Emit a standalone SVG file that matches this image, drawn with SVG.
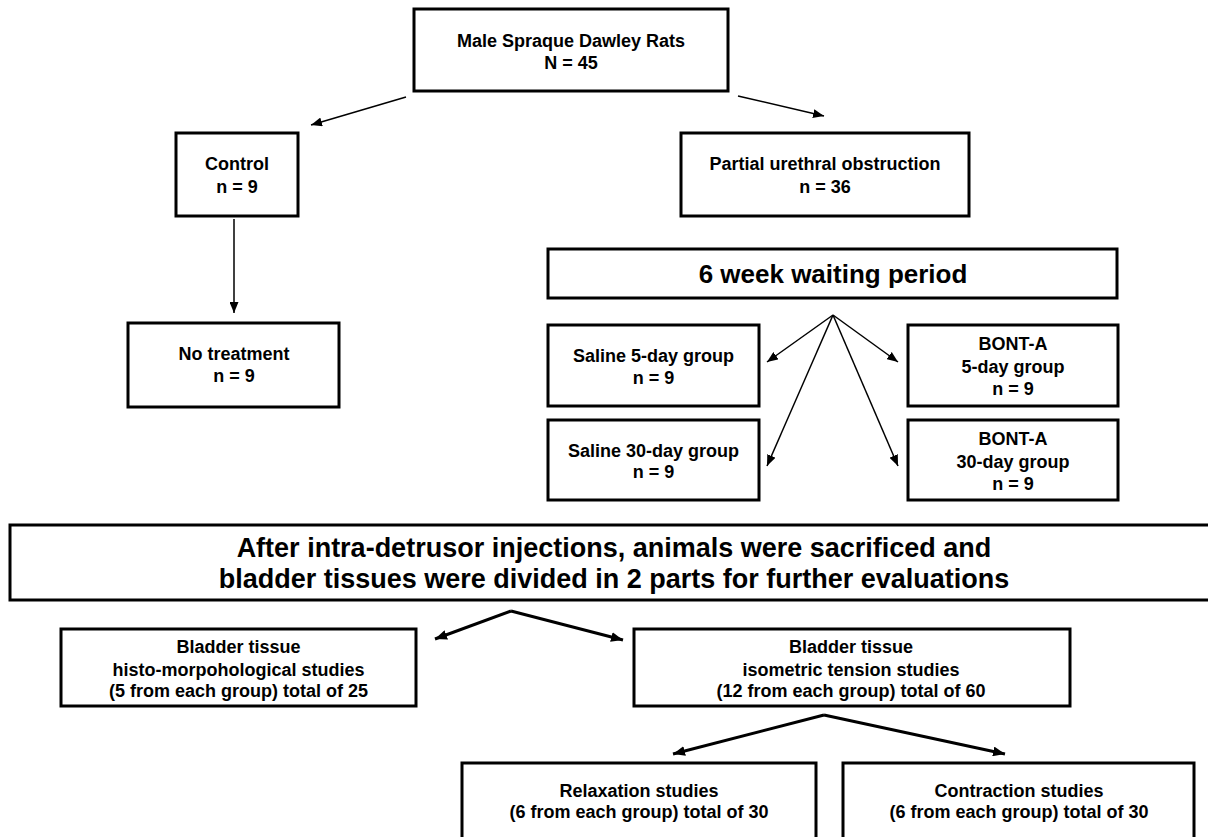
<svg xmlns="http://www.w3.org/2000/svg" width="1208" height="837" viewBox="0 0 1208 837">
<style>
.box{fill:#fff;stroke:#000;stroke-width:3}
.t{font-family:"Liberation Sans",Arial,sans-serif;font-weight:bold;font-size:18px;fill:#000;text-anchor:middle}
.big{font-size:26px}
.huge{font-size:27px}
.thin{stroke:#000;stroke-width:1.5;fill:none;marker-end:url(#ah)}
.thick{stroke:#000;stroke-width:3;fill:none;marker-end:url(#ahk)}
</style>
<defs>
<marker id="ah" markerUnits="userSpaceOnUse" markerWidth="11" markerHeight="9" refX="11" refY="4.5" orient="auto">
<path d="M0,0 L11,4.5 L0,9 z" fill="#000"/>
</marker>
<marker id="ahk" markerUnits="userSpaceOnUse" markerWidth="12" markerHeight="10" refX="12" refY="5" orient="auto">
<path d="M0,0 L12,5 L0,10 z" fill="#000"/>
</marker>
</defs>
<rect width="1208" height="837" fill="#fff"/>
<g id="connectors">
<path class="thin" d="M406,97 L311,125"/>
<path class="thin" d="M738,96 L824,116"/>
<path class="thin" d="M234,219 L234,313"/>
<path class="thin" d="M833,315 L767,362"/>
<path class="thin" d="M833,315 L767,466"/>
<path class="thin" d="M833,315 L898,362"/>
<path class="thin" d="M833,315 L898,466"/>
<path class="thick" d="M511,611 L435,639"/>
<path class="thick" d="M511,611 L623,640"/>
<path class="thick" d="M824,715 L673,754"/>
<path class="thick" d="M824,715 L1005,754"/>
</g>
<g id="rats">
<rect class="box" x="414" y="9" width="314" height="82"/>
<text class="t" x="571" y="47">Male Spraque Dawley Rats</text>
<text class="t" x="571" y="69">N = 45</text>
</g>
<g id="control">
<rect class="box" x="176" y="133" width="122" height="83"/>
<text class="t" x="237" y="170">Control</text>
<text class="t" x="237" y="193">n = 9</text>
</g>
<g id="obstruction">
<rect class="box" x="681" y="133" width="288" height="83"/>
<text class="t" x="825" y="170">Partial urethral obstruction</text>
<text class="t" x="825" y="193">n = 36</text>
</g>
<g id="notreatment">
<rect class="box" x="128" y="323" width="211" height="84"/>
<text class="t" x="234" y="360">No treatment</text>
<text class="t" x="234" y="382">n = 9</text>
</g>
<g id="waiting">
<rect class="box" x="548" y="249" width="569" height="49"/>
<text class="t big" x="833" y="283">6 week waiting period</text>
</g>
<g id="saline5">
<rect class="box" x="548" y="325" width="211" height="81"/>
<text class="t" x="653.5" y="362">Saline 5-day group</text>
<text class="t" x="653.5" y="384">n = 9</text>
</g>
<g id="saline30">
<rect class="box" x="548" y="420" width="211" height="80"/>
<text class="t" x="653.5" y="457">Saline 30-day group</text>
<text class="t" x="653.5" y="478">n = 9</text>
</g>
<g id="bont5">
<rect class="box" x="908" y="325" width="210" height="81"/>
<text class="t" x="1013" y="350">BONT-A</text>
<text class="t" x="1013" y="373">5-day group</text>
<text class="t" x="1013" y="395">n = 9</text>
</g>
<g id="bont30">
<rect class="box" x="908" y="420" width="210" height="80"/>
<text class="t" x="1013" y="445">BONT-A</text>
<text class="t" x="1013" y="468">30-day group</text>
<text class="t" x="1013" y="490">n = 9</text>
</g>
<g id="sacrificed">
<rect class="box" x="10" y="525" width="1210" height="75"/>
<text class="t huge" x="614" y="557">After intra-detrusor injections, animals were sacrificed and</text>
<text class="t huge" x="614" y="588">bladder tissues were divided in 2 parts for further evaluations</text>
</g>
<g id="histo">
<rect class="box" x="61" y="629" width="355" height="77"/>
<text class="t" x="238.5" y="653">Bladder tissue</text>
<text class="t" x="238.5" y="676">histo-morpohological studies</text>
<text class="t" x="238.5" y="697">(5 from each group) total of 25</text>
</g>
<g id="isometric">
<rect class="box" x="634" y="629" width="436" height="77"/>
<text class="t" x="851" y="653">Bladder tissue</text>
<text class="t" x="851" y="676">isometric tension studies</text>
<text class="t" x="851" y="697">(12 from each group) total of 60</text>
</g>
<g id="relaxation">
<rect class="box" x="462" y="763" width="354" height="90"/>
<text class="t" x="639" y="797">Relaxation studies</text>
<text class="t" x="639" y="818">(6 from each group) total of 30</text>
</g>
<g id="contraction">
<rect class="box" x="843" y="763" width="351" height="90"/>
<text class="t" x="1019" y="797">Contraction studies</text>
<text class="t" x="1019" y="818">(6 from each group) total of 30</text>
</g>
</svg>
